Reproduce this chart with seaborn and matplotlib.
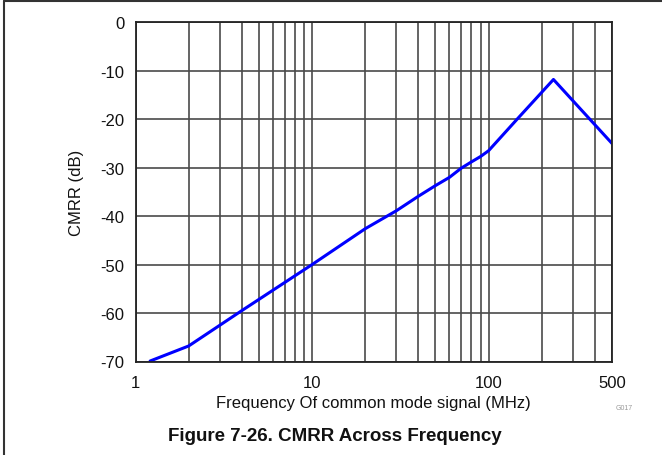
import matplotlib
matplotlib.use("Agg")
import matplotlib.pyplot as plt
import seaborn as sns
import pandas as pd
from matplotlib.lines import Line2D
from matplotlib.ticker import FixedLocator, NullFormatter

freq_mhz = [1.21, 2, 4, 10, 20, 30, 40, 50, 60, 70, 80, 90, 100, 145, 233, 500]
cmrr_db = [-69.9, -66.8, -59.5, -50.0, -42.6, -38.9, -35.9, -33.7, -32.0, -30.1, -28.8, -27.7, -26.5, -20.0, -11.8, -25.0]

x_ticks = [1, 10, 100, 500]
x_tick_labels = ["1", "10", "100", "500"]
x_minor = [2, 3, 4, 5, 6, 7, 8, 9, 20, 30, 40, 50, 60, 70, 80, 90, 200, 300, 400]
y_ticks = [0, -10, -20, -30, -40, -50, -60, -70]

df = pd.DataFrame({"freq": freq_mhz, "cmrr": cmrr_db})

sns.set_style("white")
plt.rcParams["font.family"] = ["Liberation Sans", "DejaVu Sans"]

fig = plt.figure(figsize=(6.62, 4.56), dpi=100)
ax = fig.add_axes([135.5 / 662, 1 - 362.5 / 456, (612 - 135.5) / 662, (362.5 - 23.3) / 456])

sns.lineplot(data=df, x="freq", y="cmrr", ax=ax, color="#0000ff", linewidth=2.2)

ax.set_xscale("log")
ax.set_xlim(1, 500)
ax.set_ylim(-70, 0)
ax.xaxis.set_major_locator(FixedLocator(x_ticks))
ax.set_xticklabels(x_tick_labels)
ax.xaxis.set_minor_locator(FixedLocator(x_minor))
ax.xaxis.set_minor_formatter(NullFormatter())
ax.set_yticks(y_ticks)
ax.set_yticklabels([str(v) for v in y_ticks])

ax.grid(True, which="both", axis="x", color="#4a4a4a", linewidth=1.2)
ax.grid(True, which="major", axis="y", color="#4a4a4a", linewidth=1.2)
for s in ax.spines.values():
    s.set_color("#222222")
    s.set_linewidth(1.3)
ax.tick_params(axis="x", which="both", length=0, labelsize=12, colors="#111111", pad=10)
ax.tick_params(axis="y", which="both", length=0, labelsize=12, colors="#111111", pad=8)
ax.set_xlabel("Frequency Of common mode signal (MHz)", fontsize=12, color="#111111", labelpad=3)
ax.set_ylabel("CMRR (dB)", fontsize=12, color="#111111", labelpad=12)

fig.text(624 / 662, 1 - 409 / 456, "G017", fontsize=5, color="#999999", ha="center", va="center")
fig.text(335 / 662, 1 - 437 / 456, "Figure 7-26. CMRR Across Frequency", fontsize=13.5,
         fontweight="bold", color="#111111", ha="center", va="center")

fig.add_artist(Line2D([4 / 662, 4 / 662], [0, 1 - 2 / 456], transform=fig.transFigure, color="#333333", linewidth=1.5))
fig.add_artist(Line2D([4 / 662, 1], [1 - 2 / 456, 1 - 2 / 456], transform=fig.transFigure, color="#333333", linewidth=1.5))

fig.savefig("out.png", dpi=100)
